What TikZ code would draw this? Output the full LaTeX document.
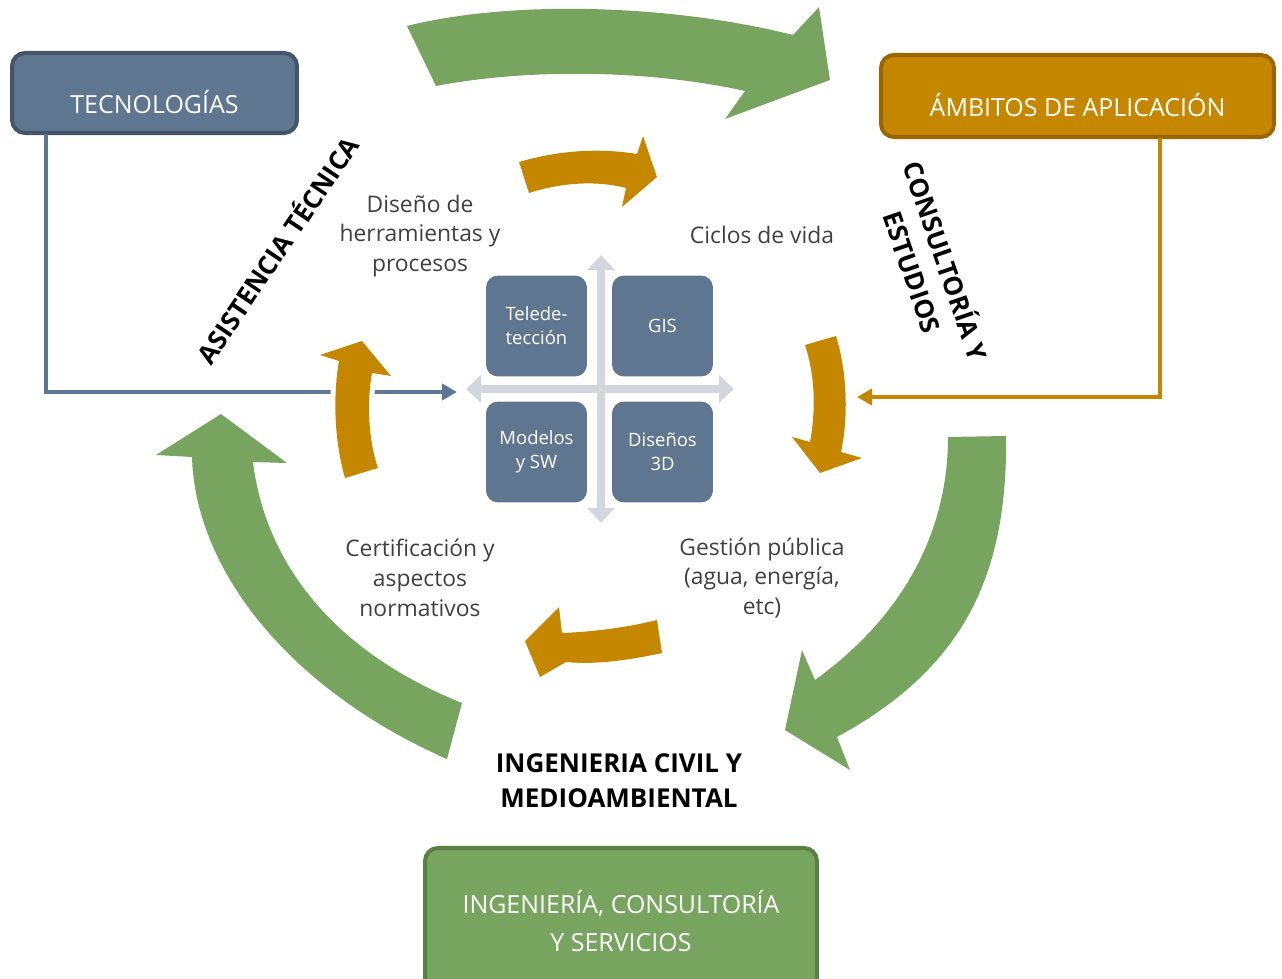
\documentclass[tikz,border=0pt]{standalone}
\usepackage{fontspec}
\setmainfont{Open Sans}
\usetikzlibrary{arrows.meta}
\definecolor{slate}{HTML}{5F7691}
\definecolor{slatedark}{HTML}{44546A}
\definecolor{ochre}{HTML}{C68700}
\definecolor{ochredark}{HTML}{9C6500}
\definecolor{leaf}{HTML}{77A55F}
\definecolor{leafdark}{HTML}{5A8045}
\definecolor{axisgray}{HTML}{D3D7DD}
\definecolor{labelgray}{HTML}{404040}
\tikzset{
  headbox/.style={draw, rounded corners=0.26cm, line width=2.3pt, text=white, align=center, font=\fontsize{14.2}{21.6}\selectfont},
  techbox/.style={headbox, draw=slatedark, fill=slate, minimum width=5.7cm, minimum height=1.6cm, text height=2.6em, text depth=0.25em},
  ambbox/.style={headbox, draw=ochredark, fill=ochre, minimum width=7.86cm, minimum height=1.64cm, text height=2.6em, text depth=0.25em},
  engbox/.style={headbox, draw=leafdark, fill=leaf, minimum width=7.84cm, minimum height=2.92cm},
  tile/.style={fill=slate, rounded corners=0.24cm, minimum width=2.02cm, minimum height=2.02cm, text=white, align=center, font=\fontsize{10.5}{13.7}\selectfont},
  topic/.style={text=labelgray, align=center, font=\fontsize{13}{17}\selectfont},
  axislabel/.style={align=center, font=\bfseries\fontsize{14.8}{20}\selectfont},
  bigarrow/.style={fill=leaf},
  smallarrow/.style={fill=ochre, preaction={draw=white, line width=0.2cm, line join=round}},
  techline/.style={draw=slate, line width=2.4pt, -{Triangle[length=3mm, width=3.2mm]}},
  ambline/.style={draw=ochre, line width=2.4pt, -{Triangle[length=3mm, width=3.2mm]}},
  crossline/.style={draw=axisgray, line width=4pt, {Triangle[length=3mm, width=5.4mm]}-{Triangle[length=3mm, width=5.4mm]}}
}

\begin{document}
\begin{tikzpicture}[x=0.02cm, y=-0.02cm]
  \useasboundingbox (0,0) rectangle (1282,979);

  \node[techbox] (tec) at (154.5,93) {TECNOLOGÍAS};
  \node[ambbox] (amb) at (1077.5,96) {ÁMBITOS DE APLICACIÓN};
  \node[engbox] (eng) at (621,921) {INGENIERÍA, CONSULTORÍA\\ Y SERVICIOS};

  \coordinate (techfoot) at (46,134);
  \coordinate (techin) at (457,392);
  \coordinate (ambfoot) at (1160,138);
  \coordinate (ambin) at (857,397);
  \draw[techline] (techfoot) |- (techin);
  \draw[ambline] (ambfoot) |- (ambin);

  \coordinate (crossN) at (601,255);
  \coordinate (crossS) at (601,523);
  \coordinate (crossW) at (466,389);
  \coordinate (crossE) at (734,389);
  \draw[crossline] (crossS) -- (crossN);
  \draw[crossline] (crossW) -- (crossE);

  \node[tile] (tele) at (536.5,326) {Telede-\\tección};
  \node[tile] (gis) at (662.5,326) {GIS};
  \node[tile] (mod) at (536.5,452) {Modelos\\y SW};
  \node[tile] (dis) at (662.5,452) {Diseños\\3D};

  \fill[bigarrow] (407,26) .. controls (510,0) and (670,4) .. (793,35) -- (819,7) -- (830,80)
    -- (725,119) -- (745,91) .. controls (650,70) and (530,68) .. (436,86) -- cycle;
  \fill[bigarrow] (1006,436) .. controls (1008,580) and (960,670) .. (837,737) -- (850,770)
    -- (785,730) -- (802,650) -- (815,680) .. controls (905,615) and (948,530) .. (948,437) -- cycle;
  \fill[bigarrow] (462,703) .. controls (330,650) and (265,560) .. (253,462) -- (287,463)
    -- (221,414) -- (156,455) -- (192,457) .. controls (195,570) and (290,690) .. (447,759) -- cycle;

  \path[smallarrow] (519,162) .. controls (560,150) and (600,148) .. (637,154) -- (643,136)
    -- (657,177) -- (622,207) -- (626,188) .. controls (595,180) and (560,183) .. (529,193) -- cycle;
  \path[smallarrow] (836,336) .. controls (848,375) and (848,420) .. (841,452) -- (862,458)
    -- (820,473) -- (792,437) -- (810,442) .. controls (816,410) and (815,375) .. (805,345) -- cycle;
  \path[smallarrow] (657,620) .. controls (625,628) and (590,632) .. (562,633) -- (559,607)
    -- (525,641) -- (540,677) -- (566,662) .. controls (595,665) and (630,660) .. (662,653) -- cycle;
  \path[smallarrow] (378,468) .. controls (368,440) and (367,400) .. (372,373) -- (391,376)
    -- (362,341) -- (320,355) -- (339,361) .. controls (333,395) and (334,440) .. (345,478) -- cycle;

  \node[topic] (tools) at (420,236) {Diseño de\\herramientas y\\procesos};
  \node[topic] (life) at (762,235) {Ciclos de vida};
  \node[topic] (cert) at (420,578) {Certificación y\\aspectos\\normativos};
  \node[topic] (gest) at (762,578) {Gestión pública\\(agua, energía,\\etc)};

  \node[axislabel, rotate=56] (asis) at (276,249) {ASISTENCIA TÉCNICA};
  \node[axislabel, rotate=-71] (cons) at (931,266) {CONSULTORÍA Y\\ESTUDIOS};
  \node[axislabel] (civil) at (619,781) {INGENIERIA CIVIL Y\\MEDIOAMBIENTAL};
\end{tikzpicture}
\end{document}
